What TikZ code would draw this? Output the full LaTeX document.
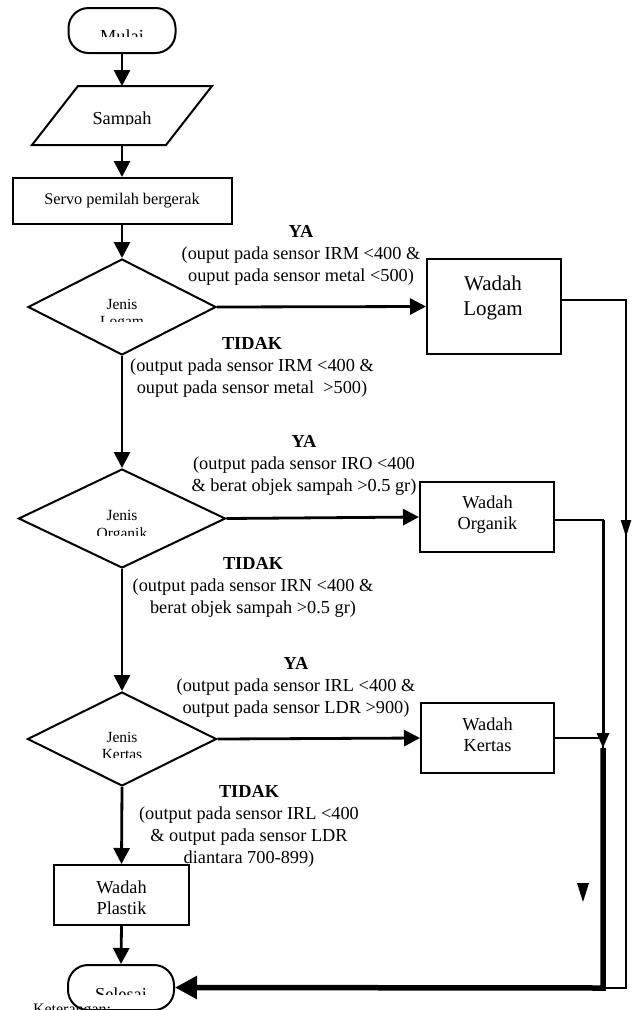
\documentclass[tikz,border=0pt]{standalone}
\usepackage{fontspec}
\setmainfont{Liberation Serif}
\usetikzlibrary{arrows.meta,shapes.geometric}
\newcommand{\fzLab}{\fontsize{18.3}{22}\selectfont}
\newcommand{\fzSmall}{\fontsize{15.5}{17}\selectfont}
\newcommand{\fzServo}{\fontsize{16.3}{18}\selectfont}
\newcommand{\fzMid}{\fontsize{18.3}{21}\selectfont}
\newcommand{\fzBig}{\fontsize{21}{25}\selectfont}
\newcommand{\fzKet}{\fontsize{16}{18}\selectfont}
\begin{document}
\begin{tikzpicture}[x=1pt,y=-1pt,
  bd/.style={draw=black,line width=2pt},
  term/.style={bd,rectangle,rounded corners=20pt,minimum width=107pt,minimum height=45pt,inner sep=0pt},
  boxnode/.style={bd,rectangle,inner sep=0pt},
  dec/.style={bd,diamond,inner sep=0pt},
  flow/.style={line width=2.8pt,-{Triangle[length=16pt,width=16pt]}},
  txt/.style={inner sep=0pt,outer sep=0pt},
  lab/.style={inner sep=0pt,outer sep=0pt,align=center,anchor=north,font=\fzLab},
  boxtext/.style={inner sep=0pt,outer sep=0pt,align=center,anchor=north},
]
\useasboundingbox (0,0) rectangle (633,1010);
\clip (0,0) rectangle (633,1010);

% ---- main shapes
\node[term] (mulai) at (122,30.5) {};
\node[txt,minimum width=134pt,minimum height=59pt] (sampah) at (122,115.5) {};
\draw[bd,line join=miter] ([xshift=23pt]sampah.north west) -- ([xshift=23pt]sampah.north east)
  -- ([xshift=-23pt]sampah.south east) -- ([xshift=-23pt]sampah.south west) -- cycle;
\node[boxnode,minimum width=219pt,minimum height=46pt,font=\fzServo] (servo) at (122,201) {Servo pemilah bergerak};

\node[dec,minimum width=188pt,minimum height=96pt] (d1) at (122,307) {};
\node[dec,minimum width=207pt,minimum height=99pt] (d2) at (122,518.5) {};
\node[dec,minimum width=189pt,minimum height=94pt] (d3) at (122,739) {};

\node[boxnode,minimum width=134pt,minimum height=95pt] (logam) at (494,306.5) {};
\node[boxnode,minimum width=134pt,minimum height=70pt] (organik) at (487,517) {};
\node[boxnode,minimum width=133pt,minimum height=70pt] (kertas) at (487.5,738) {};
\node[boxnode,minimum width=135pt,minimum height=60pt] (plastik) at (121.5,895) {};
\node[term,minimum width=106pt] (selesai) at (121,987.5) {};

% ---- texts in boxes
\node[boxtext,font=\fzBig] (logamT) at (493,275.7) {Wadah\\Logam};
\node[boxtext,font=\fzMid] (organikT) at (487.5,495.7) {Wadah\\Organik};
\node[boxtext,font=\fzMid] (kertasT) at (487.5,717.7) {Wadah\\Kertas};
\node[boxtext,font=\fzMid] (plastikT) at (121.5,880.5) {Wadah\\Plastik};

% ---- clipped texts
\begin{scope}
  \clip (60,10) rectangle (190,36);
  \node[txt,anchor=base,font=\fzLab] (mulaiT) at (122,42) {Mulai};
\end{scope}
\begin{scope}
  \clip (60,95) rectangle (190,124.5);
  \node[txt,anchor=base,font=\fzLab] (sampahT) at (122,124) {Sampah};
\end{scope}
\begin{scope}
  \clip (60,290) rectangle (190,321);
  \node[txt,anchor=base,font=\fzSmall] (d1a) at (122,309) {Jenis};
  \node[txt,anchor=base,font=\fzSmall] (d1b) at (122,326) {Logam};
\end{scope}
\begin{scope}
  \clip (60,500) rectangle (190,535);
  \node[txt,anchor=base,font=\fzSmall] (d2a) at (122,520) {Jenis};
  \node[txt,anchor=base,font=\fzSmall] (d2b) at (122,538) {Organik};
\end{scope}
\begin{scope}
  \clip (60,720) rectangle (190,757);
  \node[txt,anchor=base,font=\fzSmall] (d3a) at (122,742) {Jenis};
  \node[txt,anchor=base,font=\fzSmall] (d3b) at (122,759) {Kertas};
\end{scope}
\begin{scope}
  \clip (60,975) rectangle (190,994);
  \node[txt,anchor=base,font=\fzLab] (selesaiT) at (121,1000) {Selesai};
\end{scope}
\node[txt,anchor=base west,font=\fzKet] (ket) at (33,1014) {Keterangan:};

% ---- condition labels
\node[lab] (ya1) at (301,225.6) {\textbf{YA}\\(ouput pada sensor IRM <400 \&\\ouput pada sensor metal <500)};
\node[lab] (tidak1) at (252,337.6) {\textbf{TIDAK}\\(output pada sensor IRM <400 \&\\ouput pada sensor metal\ \ >500)};
\node[lab] (ya2) at (304,435.6) {\textbf{YA}\\(output pada sensor IRO <400\\\& berat objek sampah >0.5 gr)};
\node[lab] (tidak2) at (253,557.6) {\textbf{TIDAK}\\(output pada sensor IRN <400 \&\\berat objek sampah >0.5 gr)};
\node[lab] (ya3) at (296,657.6) {\textbf{YA}\\(output pada sensor IRL <400 \&\\output pada sensor LDR >900)};
\node[lab] (tidak3) at (249,785.6) {\textbf{TIDAK}\\(output pada sensor IRL <400\\\& output pada sensor LDR\\diantara 700-899)};

% ---- main flow
\draw[flow] (mulai.south) -- (sampah.north);
\draw[flow] (sampah.south) -- (servo.north);
\draw[flow] (servo.south) -- (d1.north);
\draw[flow] (d1.south) -- (d2.north);
\draw[flow] (d2.south) -- (d3.north);
\draw[flow] (d3.south) -- (plastik.north);
\draw[flow] (plastik.south) -- (selesai.north);
\draw[flow] (d1.east) -- (logam.west);
\draw[flow] (d2.east) -- (organik.west);
\draw[flow] (d3.east) -- (kertas.west);

% ---- right-hand return lines
\coordinate (rA) at (626,300);
\coordinate (rM) at (626,537);
\coordinate (rB) at (626,988);
\coordinate (oA) at (603,520);
\coordinate (oM) at (603,748);
\coordinate (oB) at (603,988);
\coordinate (kA) at (603,738);

\draw[line width=2.2pt,line join=miter] (logam.east |- rA) -- (rA) -- (rB) -- (oB);
\draw[line width=2.2pt,-{Triangle[length=17pt,width=10pt]}] (rA) -- (rM);
\draw[line width=2.5pt,line join=miter] (organik.east |- oA) -- (oA) -- (oM);
\draw[line width=3pt,-{Triangle[length=15pt,width=12pt]}] (oA) -- (oM);
\draw[line width=2.5pt] (kertas.east) -- (kA);
\draw[line width=5.5pt,line join=miter,-{Triangle[length=22pt,width=22pt]}] (oM) -- (oB) -- (selesai.east);

% ---- loose arrowhead
\fill (577,883) -- (589,883) -- (583,902) -- cycle;
\end{tikzpicture}
\end{document}
